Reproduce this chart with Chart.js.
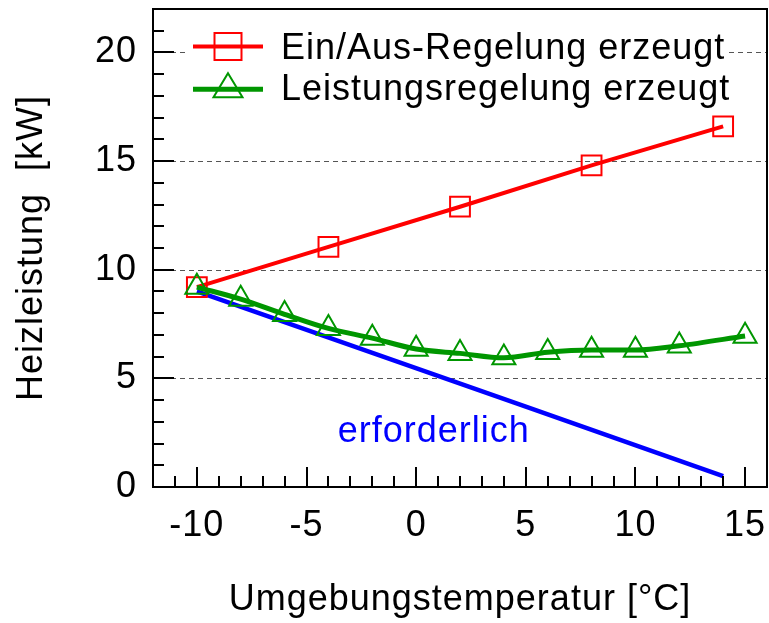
<!DOCTYPE html>
<html><head><meta charset="utf-8">
<script src="https://cdn.jsdelivr.net/npm/chart.js@4/dist/chart.umd.min.js"></script>
<style>html,body{margin:0;padding:0;background:#fff;overflow:hidden}#wrap{width:769px;height:623px}</style>
</head><body><div id="wrap"><canvas id="c" width="769" height="623"></canvas></div>
<script>
// ---- data ----
const xTickValues = [-10, -5, 0, 5, 10, 15];
const yTickValues = [0, 5, 10, 15, 20];
const gridYValues = [5, 10, 15, 20];
const onOffX = [-10, -4, 2, 8, 14];
const onOffY = [9.2, 11.05, 12.9, 14.8, 16.6];
const powerX = [-10, -8, -6, -4, -2, 0, 2, 4, 6, 8, 10, 12, 15];
const powerY = [9.2, 8.65, 7.95, 7.3, 6.85, 6.35, 6.15, 5.95, 6.2, 6.3, 6.3, 6.5, 6.95];
const reqX = [-10, 5, 14];
const reqY = [9.0, 3.7, 0.5];
const labelOnOff = 'Ein/Aus-Regelung erzeugt';
const labelPower = 'Leistungsregelung erzeugt';
const labelReq = 'erforderlich';
const labelReqPos = {x: 0.8, y: 2.05};
const xTitle = 'Umgebungstemperatur [°C]';
const yTitle = 'Heizleistung  [kW]';

const FONT = '"Liberation Sans", Arial, Helvetica, sans-serif';
const FS = 36;
Chart.defaults.font.family = FONT;
Chart.defaults.color = '#000';

const RED = '#ff0000', GREEN = '#009600', BLUE = '#0000ff';

const pts = (xs, ys) => xs.map((x, i) => ({x: x, y: ys[i]}));

const noPad = s => {
  s.paddingTop = 0; s.paddingBottom = 0; s.paddingLeft = 0; s.paddingRight = 0;
};

const deco = {
  id: 'deco',
  beforeDraw(chart) {
    chart.ctx.letterSpacing = '1px';
  },
  beforeDatasetsDraw(chart) {
    const {ctx, chartArea: a, scales: {y}} = chart;
    ctx.save();
    ctx.strokeStyle = '#555';
    ctx.lineWidth = 1;
    ctx.setLineDash([5, 4]);
    gridYValues.forEach(v => {
      const py = Math.round(y.getPixelForValue(v)) + 0.5;
      ctx.beginPath(); ctx.moveTo(a.left, py); ctx.lineTo(a.right, py); ctx.stroke();
    });
    ctx.restore();
  },
  afterDatasetsDraw(chart) {
    const {ctx, chartArea: a, scales: {x, y}} = chart;
    ctx.save();
    ctx.fillStyle = BLUE;
    ctx.font = FS + 'px ' + FONT;
    ctx.textAlign = 'center';
    ctx.textBaseline = 'alphabetic';
    ctx.fillText(labelReq, x.getPixelForValue(labelReqPos.x), y.getPixelForValue(labelReqPos.y));
    ctx.strokeStyle = '#000';
    ctx.lineWidth = 2;
    for (let v = Math.ceil(x.min) + 1; v < x.max; v++) {
      const px = Math.round(x.getPixelForValue(v));
      const len = v % 5 === 0 ? 20 : 11;
      ctx.beginPath(); ctx.moveTo(px, a.bottom); ctx.lineTo(px, a.bottom - len); ctx.stroke();
    }
    for (let v = Math.ceil(y.min) + 1; v < y.max; v++) {
      const py = Math.round(y.getPixelForValue(v));
      const len = v % 5 === 0 ? 21 : 11;
      ctx.beginPath(); ctx.moveTo(a.left, py); ctx.lineTo(a.left + len, py); ctx.stroke();
    }
    ctx.strokeRect(a.left, a.top, a.right - a.left, a.bottom - a.top);
    ctx.restore();
  },
  afterDraw(chart) {
    const {ctx} = chart;
    ctx.save();
    ctx.fillStyle = '#fff';
    ctx.fillRect(188, 27, 541, 82);
    const rows = [
      {color: RED, lw: 4, style: 'rect', text: labelOnOff, ly: 46.5, ty: 58.5},
      {color: GREEN, lw: 5, style: 'triangle', text: labelPower, ly: 89.3, ty: 100}
    ];
    rows.forEach(r => {
      ctx.strokeStyle = r.color;
      ctx.lineWidth = r.lw;
      ctx.setLineDash([]);
      ctx.beginPath(); ctx.moveTo(193, r.ly); ctx.lineTo(263, r.ly); ctx.stroke();
      ctx.lineWidth = 2;
      const cx = 228;
      ctx.beginPath();
      if (r.style === 'rect') {
        ctx.rect(cx - 13.5, r.ly - 13.5, 27, 27);
      } else {
        const h = 24, w = 29;
        ctx.moveTo(cx, r.ly - h * 2 / 3);
        ctx.lineTo(cx + w / 2, r.ly + h / 3);
        ctx.lineTo(cx - w / 2, r.ly + h / 3);
        ctx.closePath();
      }
      ctx.stroke();
      ctx.fillStyle = '#000';
      ctx.font = FS + 'px ' + FONT;
      ctx.textAlign = 'left';
      ctx.textBaseline = 'alphabetic';
      ctx.fillText(r.text, 281, r.ty);
    });
    ctx.restore();
  }
};

new Chart(document.getElementById('c'), {
  type: 'line',
  data: {
    datasets: [
      {
        label: labelPower, data: pts(powerX, powerY), order: 0,
        borderColor: GREEN, borderWidth: 5, cubicInterpolationMode: 'monotone',
        pointStyle: 'triangle', pointRadius: 13.3, pointBorderWidth: 2,
        pointBorderColor: GREEN, pointBackgroundColor: 'rgba(0,0,0,0)'
      },
      {
        label: labelOnOff, data: pts(onOffX, onOffY), order: 1,
        borderColor: RED, borderWidth: 4, tension: 0,
        pointStyle: 'rect', pointRadius: 14, pointBorderWidth: 2,
        pointBorderColor: RED, pointBackgroundColor: 'rgba(0,0,0,0)'
      },
      {
        label: labelReq, data: pts(reqX, reqY), order: 2,
        borderColor: BLUE, borderWidth: 4.5, tension: 0, pointRadius: 0
      }
    ]
  },
  options: {
    responsive: false, animation: false, devicePixelRatio: 1, events: [],
    layout: {autoPadding: false, padding: {top: 9, right: 2, left: 0, bottom: 0}},
    plugins: {legend: {display: false}, tooltip: {enabled: false}},
    scales: {
      x: {
        type: 'linear', min: -12, max: 16,
        afterBuildTicks: s => { s.ticks = xTickValues.map(v => ({value: v})); },
        afterFit: s => { s.height = 136; noPad(s); },
        grid: {display: false, drawTicks: false},
        border: {display: false},
        ticks: {padding: 17, color: '#000', font: {size: FS}, maxRotation: 0, autoSkip: false},
        title: {display: true, text: xTitle, color: '#000', font: {size: FS}, padding: {top: 0, bottom: 1}}
      },
      y: {
        type: 'linear', min: 0, max: 22,
        afterBuildTicks: s => { s.ticks = yTickValues.map(v => ({value: v})); },
        afterFit: s => { s.width = 153; noPad(s); },
        grid: {display: false, drawTicks: false},
        border: {display: false},
        ticks: {padding: 16, color: '#000', font: {size: FS}},
        title: {display: true, text: yTitle, color: '#000', font: {size: FS}, padding: {top: 10.5, bottom: 0}}
      }
    }
  },
  plugins: [deco]
});
</script>
</body></html>
